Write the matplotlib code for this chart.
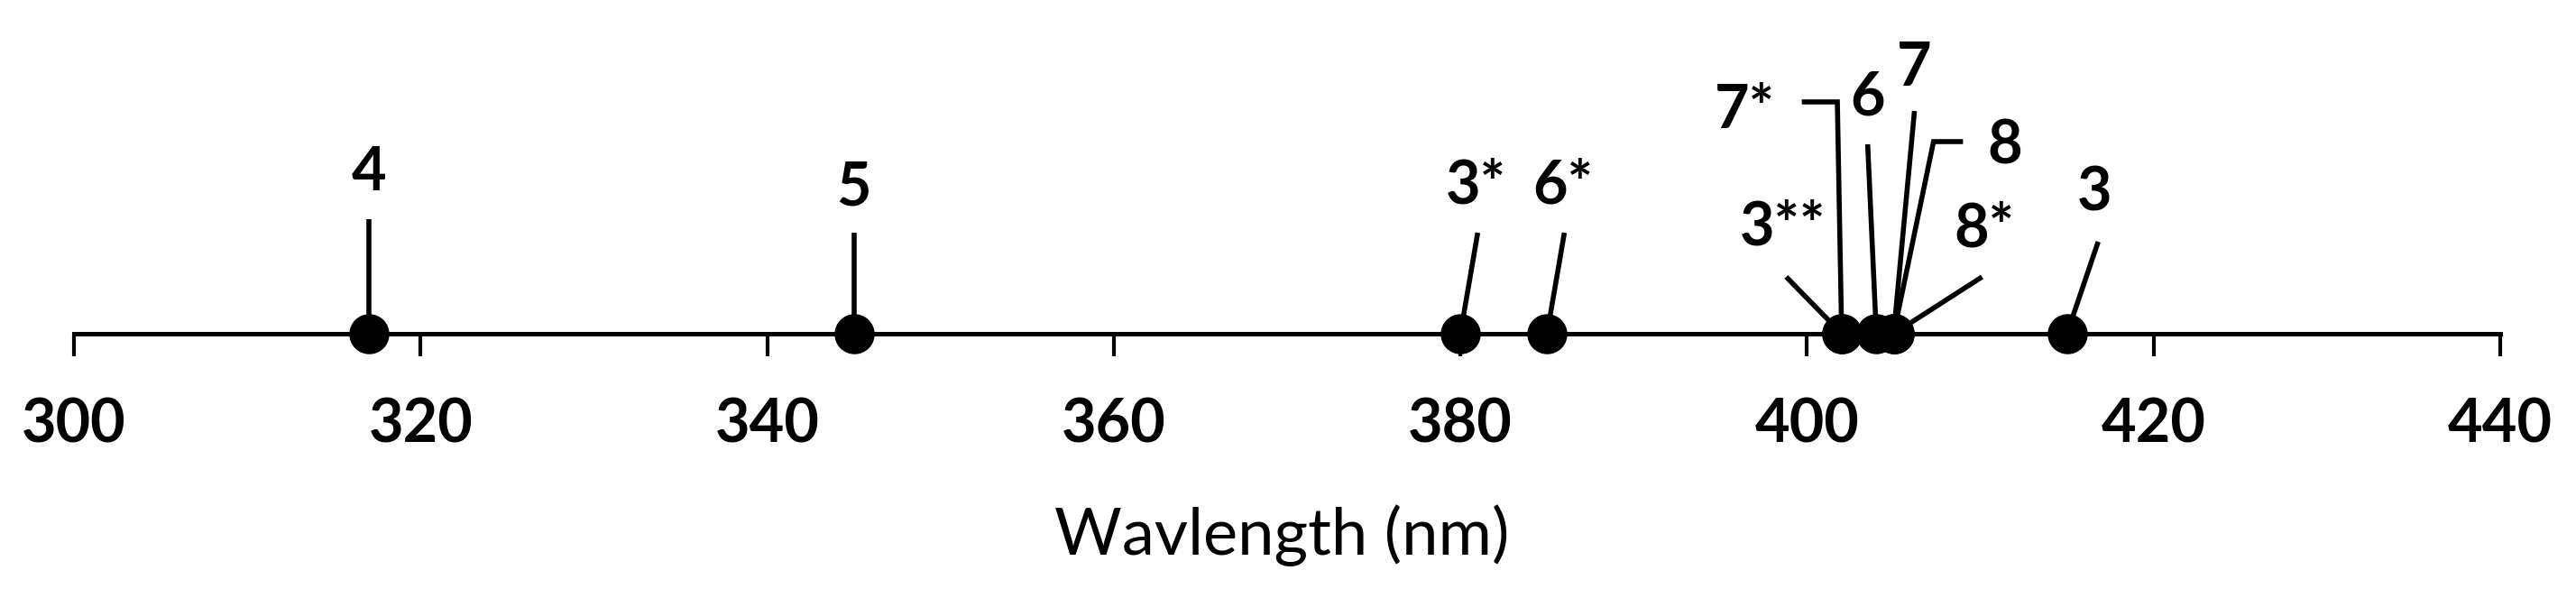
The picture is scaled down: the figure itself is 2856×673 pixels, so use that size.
import matplotlib.pyplot as plt

# -------------------------------------------------
# Data
# -------------------------------------------------
labels = ["4", "5", "3*", "6*", "3**", "7*", "6", "7", "8", "8*", "3"]
wavelengths = [317, 345, 380, 385, 402, 402, 404, 405, 405, 405, 415]
tick_values = [300, 320, 340, 360, 380, 400, 420, 440]

# label placement: text position (nm, px above axis) and leader bends
label_pos = {
    "4": (317, 183), "5": (345, 166), "3*": (380.9, 168), "6*": (385.9, 168),
    "3**": (398.6, 122), "7*": (396.4, 252), "6": (403.5, 267), "7": (406.2, 299),
    "8": (411.4, 212), "8*": (410.2, 120), "3": (416.6, 160),
}
leader_pts = {
    "4": [(317, 127)], "5": [(345, 112)], "3*": [(381.0, 112)], "6*": [(386.0, 112)],
    "3**": [(398.8, 63)], "7*": [(401.75, 257), (399.7, 257)], "6": [(403.5, 210)],
    "7": [(406.2, 247)], "8": [(407.3, 213), (409.0, 213)], "8*": [(410.1, 63)],
    "3": [(416.8, 102)],
}

# -------------------------------------------------
# Figure
# -------------------------------------------------
plt.rcParams["font.family"] = ["Lato", "DejaVu Sans"]

W, H = 2856, 673
fig = plt.figure(figsize=(W / 100, H / 100), dpi=100)
axis_y = 370
ax = fig.add_axes([82 / W, 1 - axis_y / H, 2690 / W, axis_y / H])
ax.set_xlim(300, 440)
ax.set_ylim(0, axis_y)

for lab, x in zip(labels, wavelengths):
    xs = [x] + [p[0] for p in leader_pts[lab]]
    ys = [0] + [p[1] for p in leader_pts[lab]]
    ax.plot(xs, ys, color="black", lw=4, clip_on=False, zorder=2,
            solid_capstyle="butt", solid_joinstyle="miter")
    tx, ty = label_pos[lab]
    ax.text(tx, ty - 24, lab, ha="center", va="baseline", fontsize=48,
            fontweight="bold")

ax.plot(wavelengths, [0] * len(wavelengths), "o", color="black", ms=31,
        clip_on=False, zorder=3)

for s in ["left", "right", "top"]:
    ax.spines[s].set_visible(False)
ax.spines["bottom"].set_linewidth(3.6)
ax.set_yticks([])
ax.set_xticks(tick_values)
ax.set_xticklabels([str(t) for t in tick_values], fontsize=48, fontweight="bold")
ax.tick_params(axis="x", direction="out", length=18, width=3, pad=33)

fig.text(1421 / W, 1 - 615 / H, "Wavlength (nm)", ha="center", va="baseline",
         fontsize=52)

fig.savefig("out.png", dpi=100)
